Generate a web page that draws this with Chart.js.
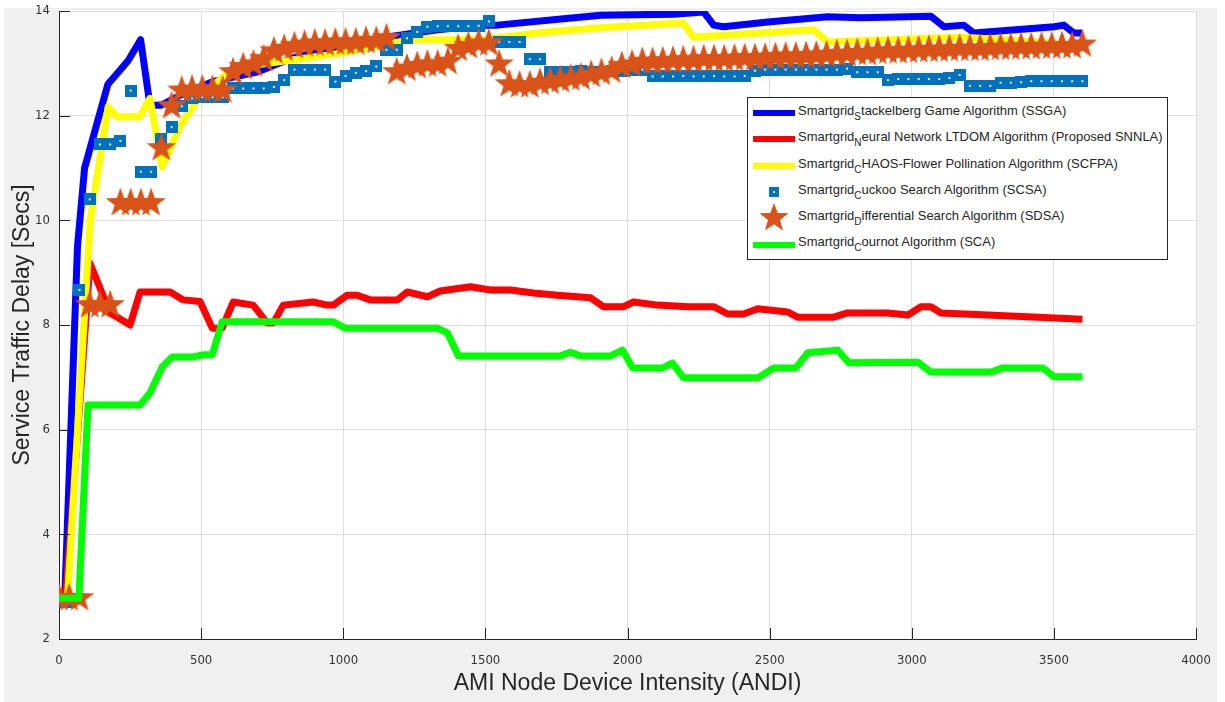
<!DOCTYPE html>
<html>
<head>
<meta charset="utf-8">
<script src="https://cdn.jsdelivr.net/npm/chart.js@4.4.1/dist/chart.umd.min.js"></script>
<style>
    body { margin: 0; background: #fff; }
    #wrap { position: relative; width: 1225px; height: 702px; }
    #legend {
        position: absolute; left: 747px; top: 97px; width: 421px; height: 163px;
        border: 1px solid #262626; background: #fff; box-sizing: border-box;
        font-family: "Liberation Sans", Arial, sans-serif; font-size: 13px; color: #262626;
        padding-top: 2px;
    }
    .legend-row { position: relative; height: 26.3px; }
    .legend-row .sw { position: absolute; left: 5px; width: 42px; top: 50%; transform: translateY(-50%); }
    .legend-row .txt { position: absolute; left: 50px; top: 3px; white-space: nowrap; }
    .legend-row sub { font-size: 10px; vertical-align: -5px; }
</style>
</head>
<body>
<div id="wrap">
    <canvas id="chart" width="1225" height="702"></canvas>
    <div id="legend"></div>
</div>
<script>
// line series (breakpoints)
const ssgaX = [0, 20, 65, 90, 172, 243, 287, 320, 360, 430, 540, 700, 820, 1000, 1150, 1331, 1507, 1542, 1775, 1905, 2162, 2268, 2303, 2338, 2493, 2704, 2820, 3067, 3113, 3183, 3218, 3500, 3535, 3570, 3600];
const ssgaY = [2.7, 2.75, 9.5, 11.0, 12.6, 13.05, 13.45, 12.2, 12.2, 12.4, 12.65, 12.84, 13.1, 13.35, 13.5, 13.64, 13.73, 13.73, 13.85, 13.92, 13.94, 13.98, 13.73, 13.7, 13.79, 13.89, 13.87, 13.9, 13.7, 13.73, 13.58, 13.7, 13.73, 13.58, 13.58];

const snnlaX = [0, 25, 109, 180, 250, 285, 391, 437, 496, 539, 574, 613, 683, 732, 754, 789, 894, 944, 965, 1014, 1049, 1095, 1190, 1225, 1296, 1341, 1447, 1518, 1588, 1669, 1753, 1870, 1915, 1986, 2021, 2106, 2211, 2303, 2352, 2408, 2458, 2563, 2598, 2725, 2774, 2915, 2986, 3032, 3067, 3102, 3268, 3444, 3600];
const snnlaY = [2.9, 2.9, 9.18, 8.23, 8.0, 8.63, 8.63, 8.48, 8.45, 7.94, 7.94, 8.44, 8.38, 8.04, 8.04, 8.38, 8.44, 8.38, 8.38, 8.57, 8.57, 8.48, 8.48, 8.63, 8.54, 8.65, 8.73, 8.67, 8.67, 8.61, 8.57, 8.52, 8.35, 8.35, 8.44, 8.38, 8.35, 8.35, 8.21, 8.21, 8.31, 8.25, 8.15, 8.15, 8.23, 8.23, 8.19, 8.35, 8.35, 8.23, 8.19, 8.15, 8.11];

const scfpaX = [0, 30, 110, 173, 204, 285, 320, 363, 426, 496, 613, 800, 1000, 1236, 1493, 1683, 1905, 2197, 2232, 2655, 2704, 3183, 3600];
const scfpaY = [2.8, 2.8, 10.0, 12.17, 11.98, 11.98, 12.33, 11.02, 11.8, 12.36, 12.91, 13.05, 13.2, 13.45, 13.45, 13.58, 13.68, 13.77, 13.5, 13.64, 13.41, 13.5, 13.35];

const scaX = [0, 70, 102, 285, 320, 363, 398, 472, 507, 539, 574, 965, 1007, 1331, 1366, 1405, 1764, 1799, 1834, 1940, 1982, 2018, 2123, 2158, 2197, 2458, 2514, 2592, 2634, 2739, 2778, 3021, 3067, 3278, 3320, 3461, 3500, 3600];
const scaY = [2.78, 2.78, 6.47, 6.47, 6.7, 7.2, 7.39, 7.39, 7.43, 7.43, 8.06, 8.06, 7.94, 7.94, 7.85, 7.41, 7.41, 7.48, 7.41, 7.41, 7.52, 7.18, 7.18, 7.27, 6.99, 6.99, 7.18, 7.18, 7.47, 7.52, 7.28, 7.29, 7.1, 7.1, 7.18, 7.18, 7.01, 7.01];

// marker series
const markerX = [0, 36, 72, 108, 144, 180, 216, 252, 288, 324, 360, 396, 432, 468, 504, 540, 576, 612, 648, 684,
    720, 756, 792, 828, 864, 900, 936, 972, 1008, 1044, 1080, 1116, 1152, 1188, 1224, 1260, 1296, 1332, 1368, 1404,
    1440, 1476, 1512, 1548, 1584, 1620, 1656, 1692, 1728, 1764, 1800, 1836, 1872, 1908, 1944, 1980, 2016, 2052, 2088, 2124,
    2160, 2196, 2232, 2268, 2304, 2340, 2376, 2412, 2448, 2484, 2520, 2556, 2592, 2628, 2664, 2700, 2736, 2772, 2808, 2844,
    2880, 2916, 2952, 2988, 3024, 3060, 3096, 3132, 3168, 3204, 3240, 3276, 3312, 3348, 3384, 3420, 3456, 3492, 3528, 3564, 3600];

const scsaY = [2.7, 2.7, 8.67, 10.4, 11.45, 11.45, 11.52, 12.48, 10.93, 10.93, 11.55, 11.78, 12.18, 12.33, 12.35, 12.35, 12.35, 12.52, 12.52, 12.52,
    12.52, 12.55, 12.68, 12.88, 12.88, 12.88, 12.88, 12.65, 12.76, 12.82, 12.85, 12.94, 13.26, 13.26, 13.48, 13.6, 13.7, 13.71, 13.71, 13.71,
    13.71, 13.72, 13.8, 13.41, 13.41, 13.41, 13.08, 13.08, 12.84, 12.84, 12.84, 12.86, 12.84, 12.84, 12.86, 12.86, 12.88, 12.88, 12.75, 12.75,
    12.75, 12.76, 12.75, 12.75, 12.76, 12.75, 12.75, 12.76, 12.86, 12.88, 12.88, 12.88, 12.88, 12.88, 12.88, 12.88, 12.88, 12.9, 12.83, 12.83,
    12.83, 12.68, 12.7, 12.7, 12.7, 12.7, 12.7, 12.72, 12.78, 12.57, 12.57, 12.57, 12.63, 12.63, 12.64, 12.66, 12.66, 12.66, 12.66, 12.66, 12.66];

const sdsaY = [2.8, 2.8, 2.8, 8.4, 8.4, 8.4, 10.35, 10.35, 10.35, 10.35, 11.4, 12.2, 12.5, 12.52, 12.52, 12.52, 12.5, 12.85, 12.95, 13.0,
    13.1, 13.25, 13.3, 13.35, 13.38, 13.4, 13.4, 13.42, 13.42, 13.42, 13.45, 13.45, 13.5, 12.85, 12.92, 12.97, 13.0, 13.0, 13.05, 13.3,
    13.35, 13.4, 13.4, 13.0, 12.62, 12.6, 12.6, 12.65, 12.67, 12.7, 12.73, 12.75, 12.8, 12.84, 12.88, 12.97, 13.0, 13.05, 13.05, 13.06,
    13.07, 13.08, 13.08, 13.1, 13.1, 13.1, 13.11, 13.12, 13.12, 13.13, 13.14, 13.15, 13.15, 13.16, 13.17, 13.18, 13.2, 13.2, 13.22, 13.22,
    13.24, 13.25, 13.25, 13.26, 13.27, 13.28, 13.28, 13.29, 13.3, 13.3, 13.3, 13.31, 13.32, 13.32, 13.33, 13.33, 13.34, 13.34, 13.35, 13.35, 13.38];

const xTicks = [0, 500, 1000, 1500, 2000, 2500, 3000, 3500, 4000];
const yTicks = [2, 4, 6, 8, 10, 12, 14];

const seriesNames = [
    ['Smartgrid', 'S', 'tackelberg Game Algorithm (SSGA)'],
    ['Smartgrid', 'N', 'eural Network LTDOM Algorithm (Proposed SNNLA)'],
    ['Smartgrid', 'C', 'HAOS-Flower Pollination Algorithm (SCFPA)'],
    ['Smartgrid', 'C', 'uckoo Search Algorithm (SCSA)'],
    ['Smartgrid', 'D', 'ifferential Search Algorithm (SDSA)'],
    ['Smartgrid', 'C', 'ournot Algorithm (SCA)']
];
const seriesColors = ['#0000ff', '#ff0000', '#ffff00', '#0072bd', '#d95319', '#00ff00'];

function toPoints(xs, ys) {
    return xs.map((x, i) => ({ x: x, y: ys[i] }));
}

function starImage(color) {
    const c = document.createElement('canvas');
    c.width = 32; c.height = 32;
    const g = c.getContext('2d');
    g.fillStyle = color;
    g.beginPath();
    for (let k = 0; k < 10; k++) {
        const r = k % 2 === 0 ? 15.5 : 6.2;
        const a = -Math.PI / 2 + k * Math.PI / 5;
        g.lineTo(16 + r * Math.cos(a), 17 + r * Math.sin(a));
    }
    g.closePath();
    g.fill();
    return c;
}

function squareImage(color) {
    const c = document.createElement('canvas');
    c.width = 12; c.height = 12;
    const g = c.getContext('2d');
    g.fillStyle = color;
    g.fillRect(0, 0, 12, 12);
    g.fillStyle = '#e8f0ff';
    g.fillRect(5, 5, 2, 2);
    return c;
}

function lineSet(label, xs, ys, color, order) {
    return {
        label: label, data: toPoints(xs, ys), borderColor: color, backgroundColor: color,
        borderWidth: 7, pointRadius: 0, tension: 0, order: order,
        borderJoinStyle: 'round', borderCapStyle: 'butt'
    };
}

function markerSet(label, ys, img, order) {
    return {
        label: label, data: toPoints(markerX, ys), showLine: false,
        pointStyle: img, pointRadius: 6, order: order
    };
}

const bgPlugin = {
    id: 'bgPlugin',
    beforeDraw(chart) {
        const ctx = chart.ctx, a = chart.chartArea;
        ctx.save();
        ctx.fillStyle = '#fff';
        ctx.fillRect(0, 0, chart.width, chart.height);
        ctx.fillStyle = '#f0f0f0';
        ctx.fillRect(4, 8, chart.width - 12, chart.height - 8);
        ctx.fillStyle = '#fff';
        ctx.fillRect(a.left, a.top - 1, a.right - a.left + 1, a.bottom - a.top + 1);
        ctx.restore();
    }
};

// MATLAB style inward ticks
const tickPlugin = {
    id: 'tickPlugin',
    afterDraw(chart) {
        const ctx = chart.ctx, a = chart.chartArea;
        const xs = chart.scales.x, ys = chart.scales.y;
        ctx.save();
        ctx.strokeStyle = '#262626';
        ctx.lineWidth = 1;
        ctx.beginPath();
        xTicks.forEach(v => {
            const px = Math.round(xs.getPixelForValue(v)) + 0.5;
            ctx.moveTo(px, a.bottom); ctx.lineTo(px, a.bottom - 11);
        });
        yTicks.forEach(v => {
            const py = Math.round(ys.getPixelForValue(v)) + 0.5;
            ctx.moveTo(a.left, py); ctx.lineTo(a.left + 11, py);
        });
        ctx.stroke();
        ctx.restore();
    }
};

const star = starImage(seriesColors[4]);
const square = squareImage(seriesColors[3]);
const labels = seriesNames.map(n => n.join(''));

const datasets = [
    lineSet(labels[0], ssgaX, ssgaY, seriesColors[0], 5),
    lineSet(labels[1], snnlaX, snnlaY, seriesColors[1], 4),
    lineSet(labels[2], scfpaX, scfpaY, seriesColors[2], 3),
    markerSet(labels[3], scsaY, square, 2),
    markerSet(labels[4], sdsaY, star, 1),
    lineSet(labels[5], scaX, scaY, seriesColors[5], 0)
];

const font = 'Liberation Sans, Arial, sans-serif';
const narrow = '"Liberation Sans Narrow", "DejaVu Sans Condensed", Arial, sans-serif';

new Chart(document.getElementById('chart'), {
    type: 'line',
    data: { datasets: datasets },
    options: {
        responsive: false,
        animation: false,
        layout: { padding: { left: 0, right: 28, top: 11, bottom: 0 } },
        plugins: { legend: { display: false }, tooltip: { enabled: false } },
        scales: {
            x: {
                type: 'linear', min: 0, max: 4000,
                afterBuildTicks: s => { s.ticks = xTicks.map(v => ({ value: v })); },
                afterFit: s => { s.height = 63; },
                grid: { color: '#dedede', drawTicks: false },
                border: { color: '#262626', width: 1 },
                ticks: { color: '#333', padding: 14, font: { family: narrow, size: 13 }, maxRotation: 0,
                    callback: v => String(v) },
                title: { display: true, text: 'AMI Node Device Intensity (ANDI)', color: '#262626',
                    font: { family: font, size: 23 }, padding: { top: 0, bottom: 5 } }
            },
            y: {
                type: 'linear', min: 2, max: 14,
                afterBuildTicks: s => { s.ticks = yTicks.map(v => ({ value: v })); },
                afterFit: s => { s.width = 59; s.paddingTop = 0; s.paddingBottom = 0; },
                grid: { color: '#dedede', drawTicks: false },
                border: { color: '#262626', width: 1 },
                ticks: { color: '#333', padding: 9, font: { family: narrow, size: 13 },
                    callback: v => String(v) },
                title: { display: true, text: 'Service Traffic Delay [Secs]', color: '#262626',
                    font: { family: font, size: 23 }, padding: { top: 9, bottom: 0 } }
            }
        }
    },
    plugins: [bgPlugin, tickPlugin]
});

// legend with subscripts
const legend = document.getElementById('legend');
seriesNames.forEach((n, i) => {
    const row = document.createElement('div');
    row.className = 'legend-row';
    let sw;
    if (i === 3) {
        sw = '<svg class="sw" width="42" height="12" viewBox="0 0 42 12"><rect x="16" y="1" width="10" height="10" fill="' + seriesColors[3] + '"/><rect x="20" y="5" width="2" height="2" fill="#e8f0ff"/></svg>';
    } else if (i === 4) {
        sw = '<svg class="sw" width="42" height="30" viewBox="0 0 42 30"><polygon fill="' + seriesColors[4] + '" points="21,0 24.7,10 35.5,10.3 27,17 30,27.5 21,21.3 12,27.5 15,17 6.5,10.3 17.3,10"/></svg>';
    } else {
        sw = '<div class="sw" style="height:6px;background:' + seriesColors[i] + '"></div>';
    }
    row.innerHTML = sw + '<span class="txt">' + n[0] + '<sub>' + n[1] + '</sub>' + n[2] + '</span>';
    legend.append(row);
});
</script>
</body>
</html>
